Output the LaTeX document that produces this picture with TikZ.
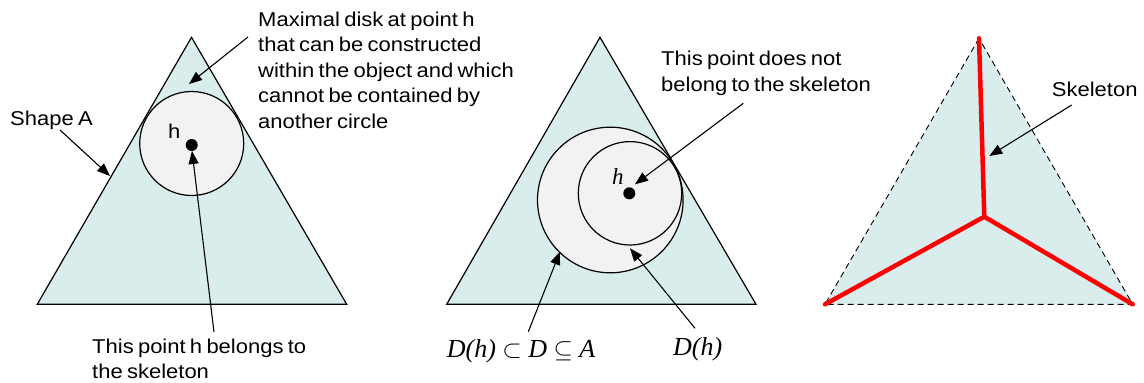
\documentclass[tikz,border=0pt]{standalone}
\usepackage{fontspec}
\setmainfont{Liberation Sans}[FakeStretch=1.1,WordSpace=0.7]
\newfontfamily\tms{Liberation Serif}
\usetikzlibrary{arrows.meta}
\definecolor{shapefill}{RGB}{218,237,237}
\definecolor{diskfill}{RGB}{242,242,242}
\definecolor{skelred}{RGB}{255,0,0}
\tikzset{
  tri/.style={draw=black,line width=1.2pt,fill=shapefill,line join=miter},
  dashtri/.style={draw=black,line width=0.9pt,dash pattern=on 6pt off 4pt,fill=shapefill},
  disk/.style={draw=black,line width=1.2pt,fill=diskfill},
  pt/.style={fill=black},
  arr/.style={-{Triangle[length=13pt,width=10pt]},line width=1.1pt},
  lbl/.style={inner sep=0pt,anchor=base west,font=\fontsize{20pt}{25.5pt}\selectfont},
  mlbl/.style={inner sep=0pt,anchor=base west,font=\fontsize{26pt}{30pt}\selectfont\tms\itshape},
  skel/.style={draw=skelred,line width=4.5pt,line cap=round,line join=miter}
}
\begin{document}
\begin{tikzpicture}[x=1pt,y=-1pt]
\useasboundingbox (0,0) rectangle (1144,383);
% ---------- left ----------
\path[tri] (191.5,37.3) -- (37.3,304.3) -- (346.7,304.3) -- cycle;
\path[disk] (191.7,143.5) circle (52);
\fill[pt] (191.7,145) circle (6);
\node[lbl] (h1) at (168,138.3) {h};
\node[lbl] (shapeA) at (10,125.7) {Shape A};
\node[lbl] (max1) at (258,26.3) {Maximal disk at point h};
\node[lbl] (max2) at (258,51.8) {that can be constructed};
\node[lbl] (max3) at (258,77.3) {within the object and which};
\node[lbl] (max4) at (258,102.8) {cannot be contained by};
\node[lbl] (max5) at (258,128.3) {another circle};
\node[lbl] (bel1) at (92,353.5) {This point h belongs to};
\node[lbl] (bel2) at (92,378.5) {the skeleton};
\coordinate (sAfrom) at (60,130);
\coordinate (sAto) at (110,176);
\coordinate (maxfrom) at (248,37);
\coordinate (maxto) at (189,84);
\coordinate (belfrom) at (214,332);
\coordinate (belto) at (192,151);
\draw[arr] (sAfrom) -- (sAto);
\draw[arr] (maxfrom) -- (maxto);
\draw[arr] (belfrom) -- (belto);
% ---------- middle ----------
\path[tri] (600,37.3) -- (446.7,304.3) -- (756,304.3) -- cycle;
\path[disk] (610.3,200) circle (72.8);
\path[disk] (630,193.3) circle (51.7);
\fill[pt] (629.3,193.3) circle (6);
\node[mlbl,font=\fontsize{23pt}{28pt}\selectfont\tms\itshape] (h2) at (612,184.5) {h};
\node[lbl] (not1) at (661,65) {This point does not};
\node[lbl] (not2) at (661,91) {belong to the skeleton};
\node[mlbl] (dsub) at (446.7,357) {D(h) $\subset$ D $\subseteq$ A};
\node[mlbl] (dh) at (673,355) {D(h)};
\coordinate (notfrom) at (743.3,103.3);
\coordinate (notto) at (635,184.3);
\coordinate (dsubfrom) at (528.3,331.7);
\coordinate (dsubto) at (560,251.7);
\coordinate (dhfrom) at (695,328.3);
\coordinate (dhto) at (630,248.3);
\draw[arr] (notfrom) -- (notto);
\draw[arr] (dsubfrom) -- (dsubto);
\draw[arr] (dhfrom) -- (dhto);
% ---------- right ----------
\path[dashtri] (979,38.3) -- (825,304.3) -- (1132.7,304.3) -- cycle;
\coordinate (apex) at (979,38.3);
\coordinate (bl) at (825,304.3);
\coordinate (br) at (1132.7,304.3);
\coordinate (junc) at (984.3,216.7);
\draw[skel] (apex) -- (junc);
\draw[skel] (bl) -- (junc) -- (br);
\node[lbl] (skelt) at (1051.7,96) {Skeleton};
\coordinate (skfrom) at (1071.7,105);
\coordinate (skto) at (989.3,156);
\draw[arr] (skfrom) -- (skto);
\end{tikzpicture}
\end{document}
